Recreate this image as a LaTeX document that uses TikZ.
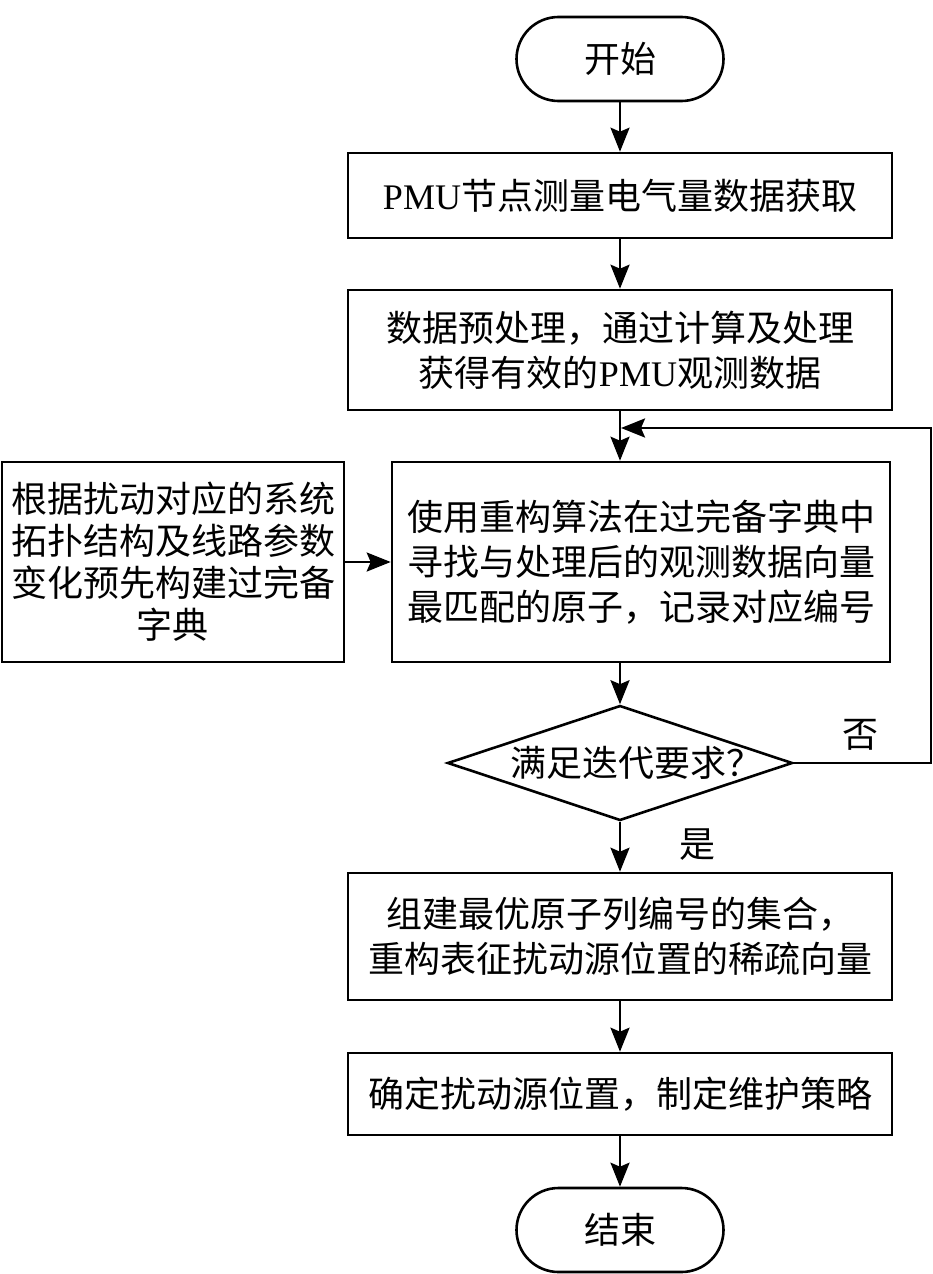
\documentclass[tikz,border=0pt]{standalone}
\usepackage{fontspec}
\setmainfont{Noto Sans CJK SC}
\newfontfamily\latinfont{Liberation Serif}
\usetikzlibrary{arrows.meta,shapes.geometric}

\newcommand*{\pmu}{{\latinfont PMU}}

\begin{document}
\begin{tikzpicture}
[
	x=1pt,y=-1pt,
	line width=2.6pt,
	every node/.style={font=\fontsize{36}{45}\selectfont},
	terminal/.style={draw,rectangle,rounded corners=42pt,minimum width=207pt,minimum height=84pt,inner sep=0pt},
	process/.style={draw,rectangle,align=center,inner sep=0pt},
	decision/.style={draw,diamond,minimum width=345pt,minimum height=115pt,inner sep=0pt},
	flow/.style={-{Stealth[length=24pt,width=19pt,inset=4pt]}}
]

	\useasboundingbox (0,0) rectangle (933,1274);

	% main chain
	\node[terminal] (start) at (620,59) {开始};
	\node[process,minimum width=544pt,minimum height=85pt] (acquire) at (620,195.5) {\pmu 节点测量电气量数据获取};
	\node[process,minimum width=544pt,minimum height=120pt] (preproc) at (620,350) {数据预处理，通过计算及处理\\获得有效的\pmu 观测数据};
	\node[process,minimum width=498pt,minimum height=200pt] (match) at (641,562) {使用重构算法在过完备字典中\\寻找与处理后的观测数据向量\\最匹配的原子，记录对应编号};
	\node[process,minimum width=342pt,minimum height=200pt,font=\fontsize{36}{42}\selectfont] (dict) at (173,562) {根据扰动对应的系统\\拓扑结构及线路参数\\变化预先构建过完备\\字典};
	\node[decision,label={[xshift=16pt]center:{满足迭代要求？}}] (check) at (620,763) {};
	\node[process,minimum width=544pt,minimum height=127pt] (sparse) at (620,936.5) {组建最优原子列编号的集合，\\重构表征扰动源位置的稀疏向量};
	\node[process,minimum width=544pt,minimum height=82pt] (locate) at (620,1094) {确定扰动源位置，制定维护策略};
	\node[terminal] (stop) at (620,1230) {结束};

	% branch labels
	\node (no) at (860,735) {否};
	\node (yes) at (697,845) {是};

	% connectors
	\draw[flow] (start) -- (acquire);
	\draw[flow] (acquire) -- (preproc);
	\draw[flow] (preproc) -- (preproc |- match.north);
	\draw[flow] (preproc |- match.south) -- (check);
	\draw[flow] (check) -- (sparse);
	\draw[flow] (sparse) -- (locate);
	\draw[flow] (locate) -- (stop);
	\draw[flow] (dict) -- (match);

	% loop back
	\coordinate (loopin) at (621,428);
	\draw[flow] (check.east) -- (931,763) |- (loopin);

\end{tikzpicture}
\end{document}
